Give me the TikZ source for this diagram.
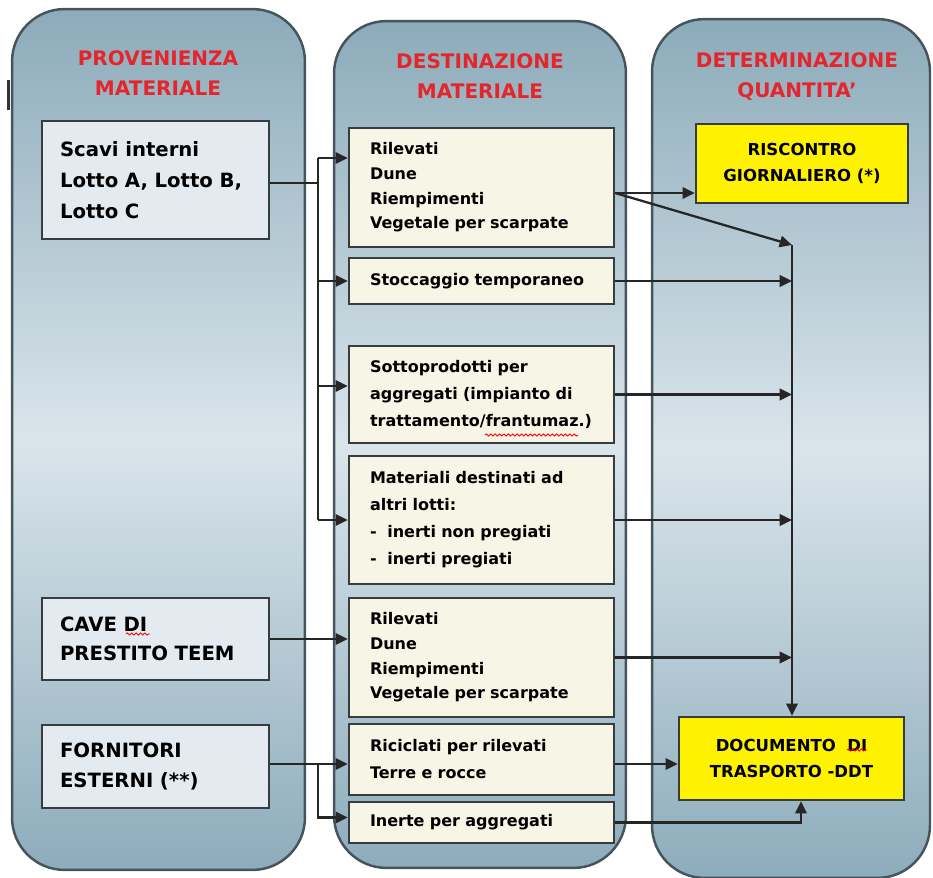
\documentclass[tikz,border=0pt]{standalone}
\usepackage{fontspec}
\setmainfont{DejaVu Sans}
\usetikzlibrary{arrows.meta,decorations.pathmorphing}

\definecolor{colTop}{RGB}{140,171,186}
\definecolor{colMid}{RGB}{218,229,235}
\definecolor{colBot}{RGB}{141,172,187}
\definecolor{colEdge}{RGB}{70,84,92}
\definecolor{hdrRed}{RGB}{228,38,44}
\definecolor{srcFill}{RGB}{227,235,240}
\definecolor{dstFill}{RGB}{247,245,230}
\definecolor{boxEdge}{RGB}{55,60,62}

\tikzset{every picture/.style={line width=1.3pt}}

\begin{document}
\begin{tikzpicture}[
    x=0.02cm, y=-0.02cm,
    column/.style={draw=colEdge, line width=1.4pt, rounded corners=1.05cm,
        top color=colTop, bottom color=colBot, middle color=colMid},
    header/.style={text=hdrRed, align=center, font=\fontsize{11.4}{17}\selectfont\bfseries},
    srcbox/.style={draw=boxEdge, fill=srcFill, text width=3.82cm, inner xsep=0.36cm,
        align=left, font=\fontsize{11.2}{17.6}\selectfont\bfseries},
    dstbox/.style={draw=boxEdge, fill=dstFill, text width=4.46cm, inner xsep=0.42cm,
        align=left, font=\fontsize{9.1}{14}\selectfont\bfseries},
    qtybox/.style={draw=boxEdge, fill=yellow, align=center,
        font=\fontsize{9.4}{15.3}\selectfont\bfseries},
    arr/.style={-{Triangle[length=7pt,width=6.5pt]}, draw=black!85},
    link/.style={draw=black!85},
    typo/.style={draw=red, line width=0.5pt, decorate,
        decoration={snake, amplitude=0.6pt, segment length=2.5pt}},
]
    \useasboundingbox (0,0) rectangle (933,878);

    \node[column, minimum width=5.86cm, minimum height=17.22cm] (colA) at (158.5,439.5) {};
    \node[column, minimum width=5.84cm, minimum height=16.94cm] (colB) at (480,444.5) {};
    \node[column, minimum width=5.56cm, minimum height=17.18cm] (colC) at (791,448.5) {};
    \fill[black!80] (7,80) rectangle (10,110);

    \node[header] (hdrA) at (158,73) {PROVENIENZA\\MATERIALE};
    \node[header] (hdrB) at (480,76) {DESTINAZIONE\\MATERIALE};
    \node[header] (hdrC) at (797,76.5) {DETERMINAZIONE\\QUANTITA'};

    \node[srcbox, minimum height=2.36cm] (scavi) at (155.5,180) {Scavi interni\\Lotto A, Lotto B,\\Lotto C};
    \node[srcbox, minimum height=1.64cm, font=\fontsize{11.2}{16.6}\selectfont\bfseries] (cave) at (155.5,639) {CAVE DI\\PRESTITO TEEM};
    \node[srcbox, minimum height=1.66cm, font=\fontsize{11.2}{16.6}\selectfont\bfseries] (forn) at (155.5,766.5) {FORNITORI\\ESTERNI (**)};

    \node[dstbox, minimum height=2.38cm] (ril1) at (481.5,187.5) {Rilevati\\Dune\\Riempimenti\\Vegetale per scarpate};
    \node[dstbox, minimum height=0.92cm] (stocc) at (481.5,281) {Stoccaggio temporaneo};
    \node[dstbox, minimum height=1.94cm, font=\fontsize{9.1}{15.6}\selectfont\bfseries] (sotto) at (481.5,394.5) {Sottoprodotti per\\aggregati (impianto di\\trattamento/frantumaz.)};
    \node[dstbox, minimum height=2.56cm, font=\fontsize{9.1}{15.4}\selectfont\bfseries] (mater) at (481.5,520) {Materiali destinati ad\\altri lotti:\\-~~inerti non pregiati\\-~~inerti pregiati};
    \node[dstbox, minimum height=2.38cm] (ril2) at (481.5,657.5) {Rilevati\\Dune\\Riempimenti\\Vegetale per scarpate};
    \node[dstbox, minimum height=1.42cm, font=\fontsize{9.1}{15.4}\selectfont\bfseries] (ricic) at (481.5,759.5) {Riciclati per rilevati\\Terre e rocce};
    \node[dstbox, minimum height=0.82cm] (inerte) at (481.5,822.5) {Inerte per aggregati};

    \node[qtybox, minimum width=4.24cm, minimum height=1.58cm] (risc) at (802,163.5) {RISCONTRO\\GIORNALIERO (*)};
    \node[qtybox, minimum width=4.5cm, minimum height=1.66cm] (ddt) at (791.5,758.5) {DOCUMENTO\ \ DI\\TRASPORTO -DDT};

    \coordinate (jA) at (318,183);
    \coordinate (inR1) at ([yshift=0.59cm]ril1.west);
    \coordinate (inSo) at ([yshift=0.17cm]sotto.west);
    \draw[link] (scavi.east |- jA) -- (jA);
    \draw[link] (jA |- inR1) -- (jA |- mater.west);
    \draw[arr] (jA |- inR1) -- (inR1);
    \draw[arr] (jA |- stocc.west) -- (stocc.west);
    \draw[arr] (jA |- inSo) -- (inSo);
    \draw[arr] (jA |- mater.west) -- (mater.west);

    \coordinate (outR1) at ([yshift=-0.11cm]ril1.east);
    \coordinate (jC) at (792,245);
    \draw[arr] (outR1) -- (outR1 -| risc.west);
    \draw[arr] (outR1) -- (jC);
    \draw[arr] (jC) -- (jC |- ddt.north);
    \draw[arr] (stocc.east) -- (stocc.east -| jC);
    \draw[arr] (sotto.east) -- (sotto.east -| jC);
    \draw[arr] (mater.east) -- (mater.east -| jC);
    \draw[arr] (ril2.east) -- (ril2.east -| jC);

    \coordinate (jB) at (318,764);
    \draw[arr] (cave.east) -- (cave.east -| ril2.west);
    \draw[arr] (forn.east |- jB) -- (jB -| ricic.west);
    \draw[arr] (jB) |- ([yshift=0.1cm]inerte.west);
    \draw[arr] (ricic.east |- jB) -- (jB -| ddt.west);
    \draw[arr] (inerte.east) -| ([xshift=0.19cm]ddt.south);

    \draw[typo] (126,634) -- (150,634);
    \draw[typo] (485,435) -- (578,435);
    \draw[typo] (847,750) -- (867,750);
\end{tikzpicture}
\end{document}
